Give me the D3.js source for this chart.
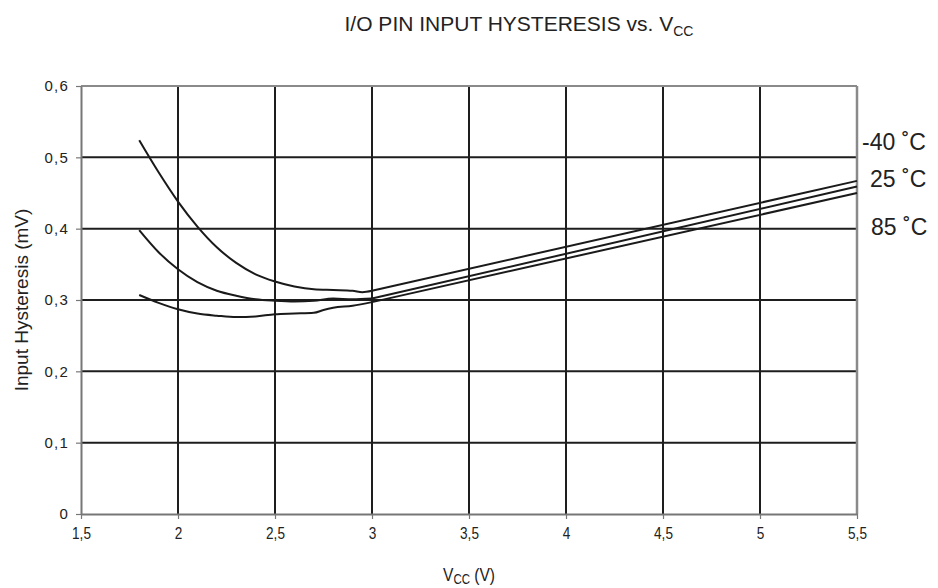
<!DOCTYPE html>
<html>
<head>
<meta charset="utf-8">
<script src="https://cdn.jsdelivr.net/npm/d3@7"></script>
<style>
  html, body { margin: 0; padding: 0; background: #fff; }
  svg { display: block; }
  text { font-family: "Liberation Sans", Arial, sans-serif; fill: #222; }
</style>
</head>
<body>
<svg id="chart" width="938" height="588"></svg>
<script>
// ---- data ----
const xTicks = [1.5, 2, 2.5, 3, 3.5, 4, 4.5, 5, 5.5];
const xTickLabels = ["1,5", "2", "2,5", "3", "3,5", "4", "4,5", "5", "5,5"];
const yTicks = [0, 0.1, 0.2, 0.3, 0.4, 0.5, 0.6];
const yTickLabels = ["0", "0,1", "0,2", "0,3", "0,4", "0,5", "0,6"];

const seriesNames = ["-40 ˚C", "25 ˚C", "85 ˚C"];

// curved low-voltage part (VCC <= 3 V)
const vccM40 = [1.8, 1.9, 2.0, 2.1, 2.2, 2.3, 2.4, 2.5, 2.6, 2.7, 2.8, 2.9, 2.95, 3.0];
const hysM40 = [0.524, 0.479, 0.438, 0.403, 0.374, 0.352, 0.336, 0.326, 0.319, 0.315, 0.314, 0.313, 0.311, 0.313];
const vcc25 = [1.8, 1.9, 2.0, 2.1, 2.2, 2.3, 2.4, 2.5, 2.6, 2.7, 2.8, 2.9, 3.0];
const hys25 = [0.398, 0.367, 0.343, 0.325, 0.313, 0.306, 0.301, 0.299, 0.298, 0.299, 0.302, 0.301, 0.302];
const vcc85 = [1.8, 1.9, 2.0, 2.1, 2.2, 2.3, 2.4, 2.5, 2.6, 2.7, 2.75, 2.8, 2.9, 3.0];
const hys85 = [0.307, 0.296, 0.287, 0.281, 0.278, 0.276, 0.277, 0.280, 0.281, 0.282, 0.286, 0.289, 0.292, 0.297];

// straight high-voltage part (3 V .. 5.5 V)
const vccLin = [3.0, 5.5];
const hysLinM40 = [0.313, 0.467];
const hysLin25 = [0.302, 0.459];
const hysLin85 = [0.297, 0.450];

// ---- layout ----
const svg = d3.select("#chart");
const mLeft = 81, mRight = 857, mTop = 86, mBottom = 514;

const x = d3.scaleLinear().domain([1.5, 5.5]).range([mLeft, mRight]);
const y = d3.scaleLinear().domain([0, 0.6]).range([mBottom, mTop]);

// grid
const g = svg.append("g");
g.selectAll("line.hgrid").data(yTicks.filter(v => v > 0 && v < 0.6)).enter()
  .append("line").attr("class", "hgrid")
  .attr("x1", mLeft).attr("x2", mRight)
  .attr("y1", d => y(d)).attr("y2", d => y(d))
  .attr("stroke", "#1e1e1e").attr("stroke-width", 2);
g.selectAll("line.vgrid").data(xTicks.filter(v => v > 1.5 && v < 5.5)).enter()
  .append("line").attr("class", "vgrid")
  .attr("x1", d => x(d)).attr("x2", d => x(d))
  .attr("y1", mTop).attr("y2", mBottom)
  .attr("stroke", "#1e1e1e").attr("stroke-width", 2);

// frame top / right
svg.append("line").attr("x1", mLeft).attr("x2", mRight).attr("y1", mTop).attr("y2", mTop)
  .attr("stroke", "#8a8a8a").attr("stroke-width", 2);
svg.append("line").attr("x1", mRight).attr("x2", mRight).attr("y1", mTop).attr("y2", mBottom)
  .attr("stroke", "#8a8a8a").attr("stroke-width", 2.5);

// axes
const yAxis = d3.axisLeft(y).tickValues(yTicks).tickFormat((d, i) => yTickLabels[i])
  .tickSize(5).tickSizeOuter(0).tickPadding(7);
const xAxis = d3.axisBottom(x).tickValues(xTicks).tickFormat((d, i) => xTickLabels[i])
  .tickSize(5).tickSizeOuter(0).tickPadding(8);

const ya = svg.append("g").attr("transform", `translate(${mLeft},0)`).call(yAxis);
const xa = svg.append("g").attr("transform", `translate(0,${mBottom})`).call(xAxis);
[ya, xa].forEach(a => {
  a.select(".domain").attr("stroke", "#777").attr("stroke-width", 2);
  a.selectAll(".tick line").attr("stroke", "#777").attr("stroke-width", 1.2);
  a.selectAll(".tick text").attr("fill", "#222");
});
ya.selectAll(".tick text").style("font-family", "'Liberation Sans', Arial, sans-serif")
  .style("font-size", "15px").style("letter-spacing", "1.2px");
xa.selectAll(".tick text").style("font-family", "'Liberation Sans', Arial, sans-serif")
  .style("font-size", "17px").attr("transform", "scale(0.8,1)");

// curves
const curveLine = d3.line().x(d => x(d[0])).y(d => y(d[1])).curve(d3.curveMonotoneX);
const straightLine = d3.line().x(d => x(d[0])).y(d => y(d[1]));
const curves = [
  [vccM40, hysM40, hysLinM40],
  [vcc25, hys25, hysLin25],
  [vcc85, hys85, hysLin85]
];
curves.forEach(([vx, hy, lin]) => {
  svg.append("path").datum(vx.map((v, i) => [v, hy[i]]))
    .attr("d", curveLine).attr("fill", "none")
    .attr("stroke", "#1a1a1a").attr("stroke-width", 2);
  svg.append("path").datum(vccLin.map((v, i) => [v, lin[i]]))
    .attr("d", straightLine).attr("fill", "none")
    .attr("stroke", "#1a1a1a").attr("stroke-width", 2);
});

// series labels
const labelPos = [[862, 150], [870, 187], [871, 235]];
seriesNames.forEach((s, i) => {
  svg.append("text").attr("x", labelPos[i][0]).attr("y", labelPos[i][1])
    .style("font-size", "23px").text(s);
});

// title
const title = svg.append("text").attr("x", 519).attr("y", 31).attr("text-anchor", "middle")
  .style("font-size", "21px");
title.append("tspan").text("I/O PIN INPUT HYSTERESIS vs. V");
title.append("tspan").attr("dy", 5).style("font-size", "14px").text("CC");

// y label
svg.append("text").attr("transform", "translate(28,300) rotate(-90)")
  .attr("text-anchor", "middle").style("font-size", "19px").text("Input Hysteresis (mV)");

// x label
const xl = svg.append("text").attr("transform", "translate(469,581) scale(0.82,1)")
  .attr("text-anchor", "middle")
  .style("font-size", "19px");
xl.append("tspan").text("V");
xl.append("tspan").attr("dy", 3).style("font-size", "14px").text("CC");
xl.append("tspan").attr("dy", -3).text(" (V)");
</script>
</body>
</html>
